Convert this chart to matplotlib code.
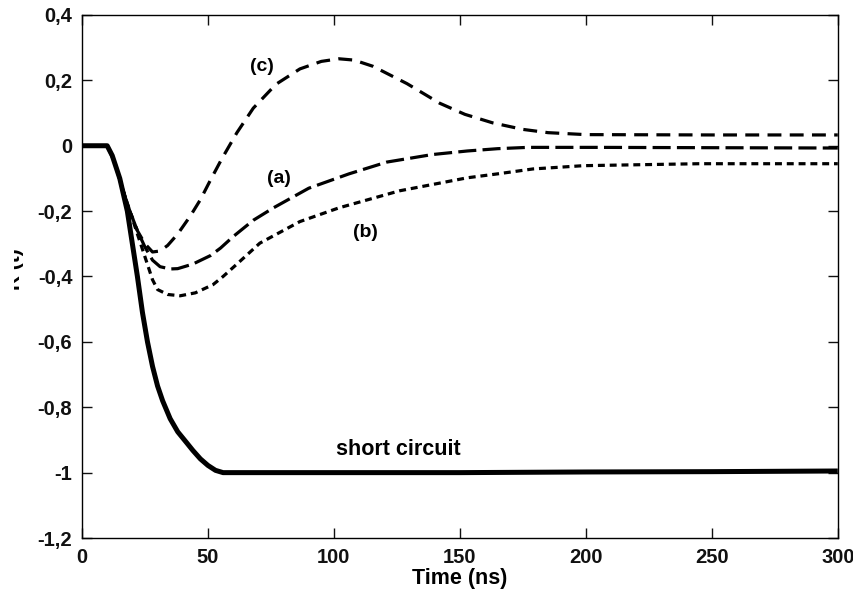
import matplotlib
matplotlib.use("Agg")
import matplotlib.pyplot as plt
from matplotlib.transforms import Bbox, TransformedBbox

plt.rcParams['font.family'] = ['Liberation Sans', 'DejaVu Sans']
plt.rcParams['font.weight'] = 'bold'
plt.rcParams['lines.scale_dashes'] = False

# ---- data ----
t_sc = [0, 10, 12, 15, 18, 20, 22, 24, 26, 28, 30, 32, 35, 38, 41.7, 44, 47, 50, 53, 56, 100, 150, 200, 250, 300]
r_sc = [0, 0, -0.03, -0.1, -0.2, -0.3, -0.4, -0.51, -0.6, -0.675, -0.735, -0.78, -0.835, -0.875, -0.91, -0.932,
        -0.958, -0.978, -0.993, -1.0, -1.0, -1.0, -0.998, -0.997, -0.995]

t_a = [0, 10, 13, 16, 19, 22, 25, 28, 31, 35, 38, 44, 51, 55, 60, 68, 76, 90, 106, 121, 139, 153, 165, 177,
       205, 250, 300]
r_a = [0, 0, -0.05, -0.13, -0.2, -0.26, -0.31, -0.35, -0.37, -0.377, -0.376, -0.362, -0.336, -0.313, -0.278,
       -0.228, -0.19, -0.13, -0.086, -0.05, -0.027, -0.016, -0.009, -0.005, -0.005, -0.006, -0.007]

t_b = [0, 10, 13, 16, 19, 22, 25, 28, 30, 34, 39, 45, 52, 56, 61.5, 70.6, 86.5, 102, 126, 153, 165, 179,
       199, 245, 300]
r_b = [0, 0, -0.05, -0.13, -0.2, -0.27, -0.34, -0.41, -0.44, -0.455, -0.459, -0.45, -0.425, -0.4, -0.362,
       -0.298, -0.232, -0.19, -0.138, -0.098, -0.086, -0.071, -0.061, -0.055, -0.055]

t_c = [0, 10, 13, 16, 19, 22, 25, 28, 31, 34, 38, 43, 47, 51, 55.5, 61.5, 68, 77, 86.5, 95, 102, 108, 115.5,
       129, 142, 152, 163, 175, 185, 200, 250, 300]
r_c = [0, 0, -0.05, -0.13, -0.2, -0.26, -0.3, -0.325, -0.322, -0.305, -0.27, -0.215, -0.165, -0.105, -0.04,
       0.04, 0.115, 0.188, 0.235, 0.258, 0.266, 0.262, 0.243, 0.19, 0.13, 0.096, 0.07, 0.05, 0.04, 0.034,
       0.033, 0.033]

x_ticks = [0, 50, 100, 150, 200, 250, 300]
y_ticks = [-1.2, -1.0, -0.8, -0.6, -0.4, -0.2, 0, 0.2, 0.4]
y_tick_labels = ['-1,2', '-1', '-0,8', '-0,6', '-0,4', '-0,2', '0', '0,2', '0,4']

# ---- figure ----
fig = plt.figure(figsize=(8.54, 5.92), dpi=100)
ax = fig.add_axes([0.096, 0.0912, 0.885, 0.8835])

ax.plot(t_sc, r_sc, color='black', lw=3.6, solid_capstyle='butt')
ax.plot(t_a, r_a, color='black', lw=2.3, dashes=(13, 4.5))
ax.plot(t_b, r_b, color='black', lw=2.3, dashes=(5, 3.5))
ax.plot(t_c, r_c, color='black', lw=2.3, dashes=(10, 6))

ax.set_xlim(0, 300)
ax.set_ylim(-1.2, 0.4)
ax.set_xticks(x_ticks)
ax.set_yticks(y_ticks)
ax.set_yticklabels(y_tick_labels)

for s in ax.spines.values():
    s.set_linewidth(1.0)
ax.tick_params(direction='in', length=7, width=1.0, top=True, right=True,
               labelsize=14.5, colors='#111111')
ax.tick_params(axis='x', pad=7)
ax.tick_params(axis='y', pad=7)

ax.set_xlabel('Time (ns)', fontsize=15.5, fontweight='bold', labelpad=1)

ax.text(71.4, 0.242, '(c)', fontsize=14, ha='center', va='center')
ax.text(78.2, -0.101, '(a)', fontsize=14, ha='center', va='center')
ax.text(112.7, -0.266, '(b)', fontsize=14, ha='center', va='center')
ax.text(125.4, -0.93, 'short circuit', fontsize=15.5, ha='center', va='center')

# y label, cut at the left edge like the source
yl = fig.text(0.006, 0.545, 'R (t)', rotation=90, fontsize=15, ha='left', va='center')
yl.set_clip_on(True)
yl.set_clip_box(TransformedBbox(Bbox([[0.016, 0.0], [1.0, 1.0]]), fig.transFigure))

fig.savefig('out.png', dpi=100)
